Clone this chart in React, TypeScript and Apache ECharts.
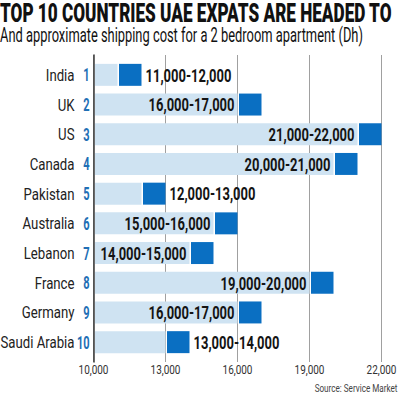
import React, { useEffect, useRef } from "react";
import * as echarts from "echarts";

const countries = ["India", "UK", "US", "Canada", "Pakistan", "Australia", "Lebanon", "France", "Germany", "Saudi Arabia"];
const ranks = [1, 2, 3, 4, 5, 6, 7, 8, 9, 10];
const lows = [11000, 16000, 21000, 20000, 12000, 15000, 14000, 19000, 16000, 13000];
const highs = [12000, 17000, 22000, 21000, 13000, 16000, 15000, 20000, 17000, 14000];
const tickValues = [10000, 13000, 16000, 19000, 22000];
const axisMin = 10000;
const axisMax = 22000;
const axisStep = 3000;

const TITLE = "TOP 10 COUNTRIES UAE EXPATS ARE HEADED TO";
const SUBTITLE = "And approximate shipping cost for a 2 bedroom apartment (Dh)";
const SOURCE = "Source: Service Market";
const FF = "Roboto";
const fmt = (v: number) => v.toLocaleString("en-US");

function measure(text: string, font: string) {
  const c = document.createElement("canvas").getContext("2d")!;
  c.font = font;
  return c.measureText(text).width;
}

export default function App() {
  const ref = useRef<HTMLDivElement>(null);
  useEffect(() => {
    if (!ref.current) return;
    const chart = echarts.init(ref.current, null, { renderer: "svg" });

    const titleScale = 392 / measure(TITLE, `900 26px ${FF}`);
    const subScale = 363 / measure(SUBTITLE, `20px ${FF}`);
    const valScale = 86 / measure("21,000-22,000", `bold 18px ${FF}`);
    const nameScale = 74 / measure("Saudi Arabia", `16px ${FF}`);
    const rankScale = 12.7 / measure("10", `bold 17.5px ${FF}`);
    const tickScale = 30 / measure("10,000", `12px ${FF}`);
    const srcScale = 83 / measure(SOURCE, `11px ${FF}`);

    const inside = lows.map((lo) => lo - axisMin >= 4000);

    chart.setOption({
      animation: false,
      grid: [
        { left: 93.5, right: 18.5, top: 55, bottom: 32 },
        { left: 93.5, right: 18.5, top: 60, bottom: 37 },
      ],
      xAxis: [
        {
          gridIndex: 0,
          type: "value",
          min: axisMin,
          max: axisMax,
          interval: axisStep,
          axisLine: { show: false },
          axisTick: { show: false },
          splitLine: { show: true, lineStyle: { color: "#a0a0a0", width: 1 } },
          axisLabel: { show: false },
        },
        { gridIndex: 1, type: "value", min: axisMin, max: axisMax, show: false },
      ],
      yAxis: [
        {
          gridIndex: 0,
          type: "value",
          min: 0,
          max: 1,
          axisLine: { show: true, lineStyle: { color: "#3a3a3a", width: 1.5 } },
          axisTick: { show: false },
          axisLabel: { show: false },
          splitLine: { show: false },
        },
        {
          gridIndex: 1,
          type: "category",
          inverse: true,
          data: countries,
          axisLine: { show: false },
          axisTick: { show: false },
          axisLabel: { show: false },
        },
      ],
      series: [
        {
          type: "custom",
          xAxisIndex: 0,
          yAxisIndex: 0,
          data: tickValues.map((t) => [t, 0]),
          encode: { x: 0, y: 1 },
          z: 3,
          renderItem: (params: any, api: any) => {
            const p = api.coord([api.value(0), 0]);
            return {
              type: "text",
              x: p[0],
              y: p[1] + 8,
              scaleX: tickScale,
              style: {
                text: fmt(api.value(0)),
                fontFamily: FF,
                fontSize: 12,
                fill: "#333",
                align: "center",
                verticalAlign: "middle",
              },
            };
          },
        },
        {
          type: "custom",
          xAxisIndex: 1,
          yAxisIndex: 1,
          data: countries.map((_, i) => [i, lows[i], highs[i]]),
          encode: { y: 0, x: [1, 2] },
          z: 2,
          renderItem: (params: any, api: any) => {
            const i = params.dataIndex;
            const lo = api.value(1);
            const hi = api.value(2);
            const base = api.coord([axisMin, i]);
            const yc = base[1];
            const band = api.size([0, 1])[1];
            const h = band * 0.74;
            const x0 = base[0];
            const xl = api.coord([lo, i])[0];
            const xh = api.coord([hi, i])[0];
            const label = `${fmt(lo)}-${fmt(hi)}`;
            return {
              type: "group",
              children: [
                {
                  type: "rect",
                  shape: { x: x0 + 1.5, y: yc - h / 2, width: xl - x0 - 1.5, height: h },
                  style: { fill: "#cfe3f2" },
                },
                {
                  type: "rect",
                  shape: { x: xl + 1.5, y: yc - h / 2, width: xh - xl - 1.5, height: h },
                  style: { fill: "#0a6fc2" },
                },
                {
                  type: "text",
                  x: inside[i] ? xl - 3 : xh + 4,
                  y: yc + 0.5,
                  scaleX: valScale,
                  style: {
                    text: label,
                    fontFamily: FF,
                    fontWeight: "bold",
                    fontSize: 18,
                    fill: "#141414",
                    align: inside[i] ? "right" : "left",
                    verticalAlign: "middle",
                  },
                },
                {
                  type: "text",
                  x: x0 - 19,
                  y: yc + 0.5,
                  scaleX: nameScale,
                  style: {
                    text: countries[i],
                    fontFamily: FF,
                    fontSize: 16,
                    fill: "#222",
                    align: "right",
                    verticalAlign: "middle",
                  },
                },
                {
                  type: "text",
                  x: x0 - 3.8,
                  y: yc + 0.5,
                  scaleX: rankScale,
                  style: {
                    text: String(ranks[i]),
                    fontFamily: FF,
                    fontWeight: "bold",
                    fontSize: 17.5,
                    fill: "#1f6fb5",
                    align: "right",
                    verticalAlign: "middle",
                  },
                },
              ],
            };
          },
        },
      ],
      graphic: [
        {
          type: "text",
          x: 0,
          y: 13.5,
          scaleX: titleScale,
          style: { text: TITLE, fontFamily: FF, fontWeight: 900, fontSize: 26, fill: "#111", align: "left", verticalAlign: "middle" },
        },
        {
          type: "text",
          x: 0,
          y: 35,
          scaleX: subScale,
          style: { text: SUBTITLE, fontFamily: FF, fontSize: 20, fill: "#111", align: "left", verticalAlign: "middle" },
        },
        {
          type: "text",
          x: 397.5,
          y: 388,
          scaleX: srcScale,
          style: { text: SOURCE, fontFamily: FF, fontSize: 11, fill: "#444", align: "right", verticalAlign: "middle" },
        },
      ],
    });
    return () => chart.dispose();
  }, []);
  return <div ref={ref} style={{ width: 400, height: 394, position: "absolute", left: 0, top: 0 }} />;
}
